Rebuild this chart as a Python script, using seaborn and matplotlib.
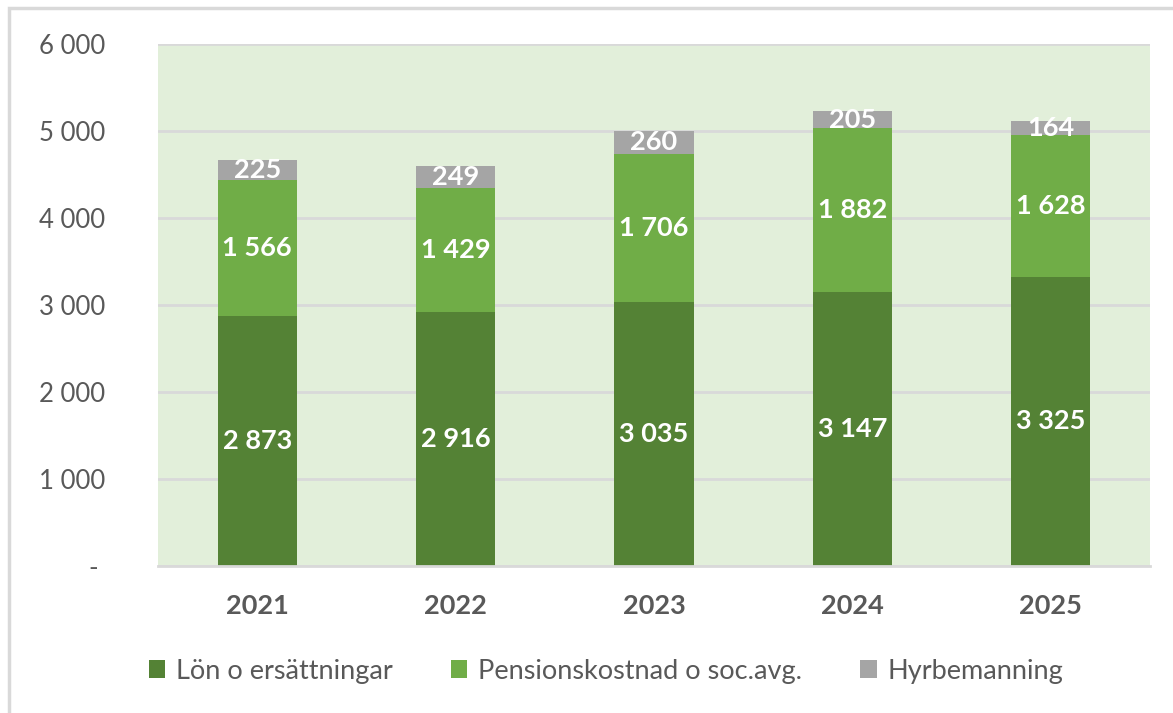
import matplotlib
matplotlib.use("Agg")
import matplotlib.pyplot as plt
from matplotlib.patches import Rectangle, Patch
import seaborn as sns
import pandas as pd
import numpy as np

years = ["2021", "2022", "2023", "2024", "2025"]
lon = [2873, 2916, 3035, 3147, 3325]
pension = [1566, 1429, 1706, 1882, 1628]
hyr = [225, 249, 260, 205, 164]
series_names = ["Lön o ersättningar", "Pensionskostnad o soc.avg.", "Hyrbemanning"]
y_ticks = [0, 1000, 2000, 3000, 4000, 5000, 6000]

colors = ["#548235", "#70AD47", "#A5A5A5"]

sns.set_theme(style="white")
plt.rcParams["font.family"] = ["Lato", "DejaVu Sans"]

fig = plt.figure(figsize=(11.73, 7.13), dpi=100)
ax = fig.add_axes([158 / 1173, 1 - 566 / 713, (1150 - 158) / 1173, (566 - 44) / 713])
ax.set_facecolor("#E2EFDA")

# outer chart frame
fig.patches.append(Rectangle((9 / 1173, -0.1), 1.2, 1 - 8 / 713 + 0.1,
                             transform=fig.transFigure, fill=False,
                             edgecolor="#D9D9D9", linewidth=2.5, zorder=0))


def fmt(v):
    return f"{v:,}".replace(",", " ")


bottoms = np.zeros(len(years))
for name, vals, col in zip(series_names, [lon, pension, hyr], colors):
    df = pd.DataFrame({"year": years, "value": vals})
    sns.barplot(data=df, x="year", y="value", color=col, width=0.4,
                bottom=bottoms.copy(), ax=ax, saturation=1, zorder=3,
                linewidth=0, errorbar=None)
    bottoms += np.array(vals)

for cont, vals in zip(ax.containers, [lon, pension, hyr]):
    ax.bar_label(cont, labels=[fmt(v) for v in vals], label_type="center",
                 color="white", fontsize=19.5, fontweight="bold", zorder=5)

ax.set_ylim(0, 6000)
ax.set_xlim(-0.5, 4.5)
ax.set_yticks(y_ticks)
ax.set_yticklabels([("- " if v == 0 else fmt(v)) for v in y_ticks],
                   color="#595959", fontsize=18.5)
ax.tick_params(axis="y", length=0, pad=38)
ax.tick_params(axis="x", length=0, pad=20)
for lbl in ax.get_xticklabels():
    lbl.set_fontweight("bold")
    lbl.set_fontsize(19.5)
    lbl.set_color("#595959")
ax.set_xlabel("")
ax.set_ylabel("")
ax.yaxis.grid(True, color="#D9D9D9", linewidth=2, zorder=1)
ax.set_axisbelow(True)
for side in ["left", "right"]:
    ax.spines[side].set_visible(False)
ax.spines["top"].set_visible(False)
ax.spines["bottom"].set_color("#D9D9D9")
ax.spines["bottom"].set_linewidth(2)
ax.spines["bottom"].set_zorder(4)

handles = [Patch(facecolor=c, edgecolor="none") for c in colors]
fig.legend(handles, series_names, loc="center", bbox_to_anchor=(606 / 1173, 1 - 671 / 713),
           ncol=3, frameon=False, fontsize=19.5, labelcolor="#595959",
           handlelength=0.6, handleheight=0.6, handletextpad=0.4, columnspacing=2.15)

fig.savefig("out.png", dpi=100)
